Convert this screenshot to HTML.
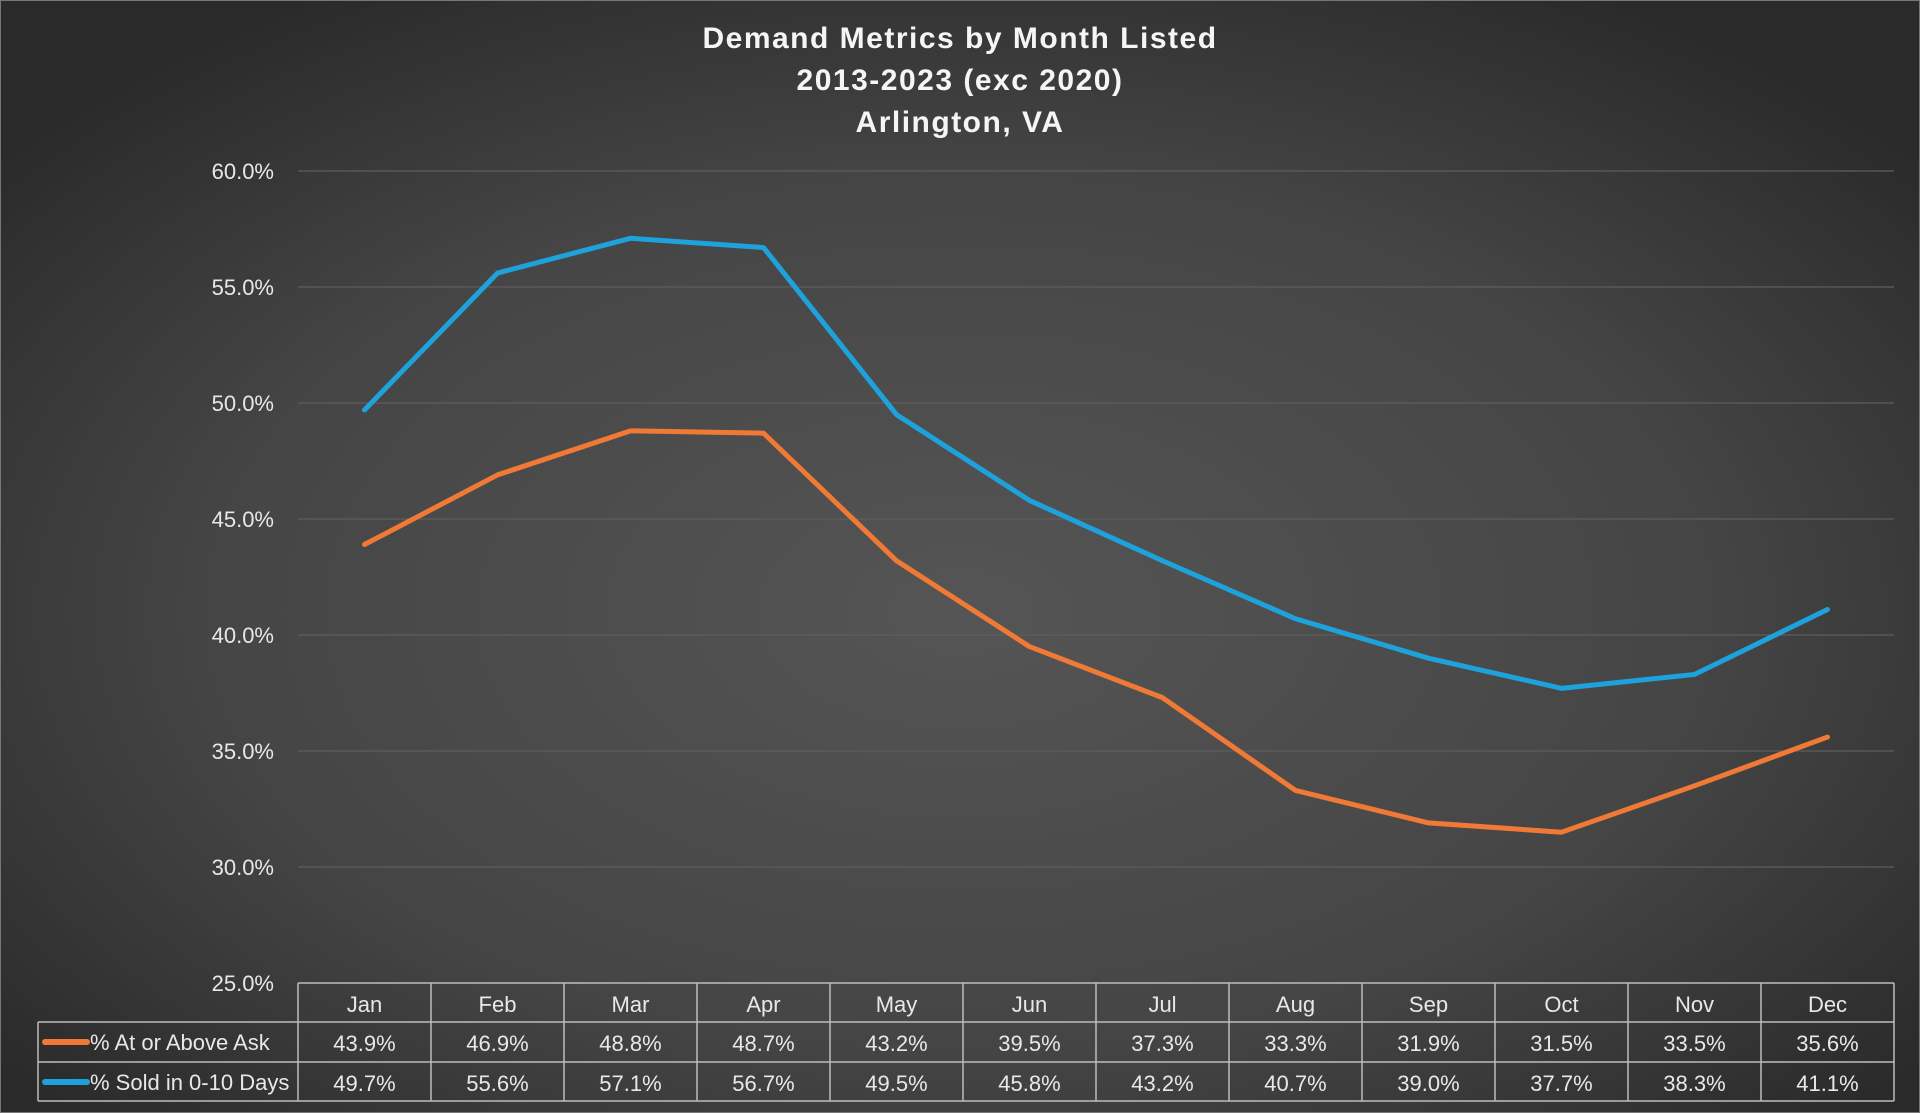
<!DOCTYPE html>
<html><head><meta charset="utf-8"><style>
html,body{margin:0;padding:0;}
body{width:1920px;height:1113px;overflow:hidden;background:#2e2e2e;}
svg{display:block;font-family:"Liberation Sans",sans-serif;}
</style></head><body>
<svg id="chart" width="1920" height="1113" viewBox="0 0 1920 1113">
<defs>
<radialGradient id="bg" cx="0.5" cy="0.55" r="0.65">
<stop offset="0" stop-color="#555555"/><stop offset="0.6" stop-color="#454545"/><stop offset="1" stop-color="#2a2a2a"/>
</radialGradient>
</defs>
<rect x="0" y="0" width="1920" height="1113" fill="url(#bg)" stroke="#777" stroke-width="2"/>
<g fill="#f5f5f5" font-weight="bold" font-size="30" text-anchor="middle" letter-spacing="1.5">
<text x="960" y="48">Demand Metrics by Month Listed</text>
<text x="960" y="90">2013-2023 (exc 2020)</text>
<text x="960" y="132">Arlington, VA</text>
</g>
<g id="grid"></g>
<g id="yticks"></g>
<g id="lines"></g>
<g id="table"></g>
</svg>
<script>
const months=["Jan","Feb","Mar","Apr","May","Jun","Jul","Aug","Sep","Oct","Nov","Dec"];
const askValues=[43.9,46.9,48.8,48.7,43.2,39.5,37.3,33.3,31.9,31.5,33.5,35.6];
const soldValues=[49.7,55.6,57.1,56.7,49.5,45.8,43.2,40.7,39.0,37.7,38.3,41.1];
const yTicks=[25,30,35,40,45,50,55,60];
const seriesNames=["% At or Above Ask","% Sold in 0-10 Days"];
const NS="http://www.w3.org/2000/svg";
const X0=298,X1=1894,Y0=983,Y1=171;
const colW=(X1-X0)/months.length;
function xs(i){return X0+colW*(i+0.5);}
function ys(v){return Y0-(v-25)/(60-25)*(Y0-Y1);}
function mk(tag,attrs,parent){const e=document.createElementNS(NS,tag);for(const k in attrs)e.setAttribute(k,attrs[k]);parent.appendChild(e);return e;}
const grid=document.getElementById('grid'),yt=document.getElementById('yticks');
yTicks.forEach(t=>{
 if(t>25){const l=mk('line',{x1:X0,x2:X1,y1:ys(t),y2:ys(t),stroke:'#5e5e5e','stroke-width':1.2},grid);
 
 }
 const tx=mk('text',{x:274,y:ys(t)+8,'text-anchor':'end',fill:'#e8e8e8','font-size':22},yt);
 tx.textContent=t.toFixed(1)+'%';
 
 
});
const lines=document.getElementById('lines');
[[askValues,'#f07a35','ask'],[soldValues,'#1ea2dc','sold']].forEach(([vals,col,n])=>{
 const p=mk('polyline',{points:vals.map((v,i)=>xs(i)+','+ys(v)).join(' '),fill:'none',stroke:col,'stroke-width':5,'stroke-linejoin':'round','stroke-linecap':'round'},lines);
 
 
});
const tb=document.getElementById('table');
const R0=983,R1=1022,R2=1062,R3=1101,LX=38;
const sc='#bdbdbd';
mk('line',{x1:X0,x2:X1,y1:R0,y2:R0,stroke:sc,'stroke-width':1.5},tb);
[R1,R2,R3].forEach(y=>mk('line',{x1:LX,x2:X1,y1:y,y2:y,stroke:sc,'stroke-width':1.5},tb));
mk('line',{x1:LX,x2:LX,y1:R1,y2:R3,stroke:sc,'stroke-width':1.5},tb);
for(let i=0;i<=months.length;i++){const x=X0+colW*i;mk('line',{x1:x,x2:x,y1:R0,y2:R3,stroke:sc,'stroke-width':1.5},tb);}
months.forEach((m,i)=>{
 const t=mk('text',{x:xs(i),y:R0+29,'text-anchor':'middle',fill:'#e8e8e8','font-size':22},tb);t.textContent=m;
 
 
 const a=mk('text',{x:xs(i),y:R1+29,'text-anchor':'middle',fill:'#e8e8e8','font-size':22},tb);a.textContent=askValues[i].toFixed(1)+'%';
 
 
 const s=mk('text',{x:xs(i),y:R2+29,'text-anchor':'middle',fill:'#e8e8e8','font-size':22},tb);s.textContent=soldValues[i].toFixed(1)+'%';
 
 
});
[['#f07a35',R1],['#1ea2dc',R2]].forEach(([c,y],k)=>{
 const l=mk('line',{x1:45,x2:87,y1:y+20,y2:y+20,stroke:c,'stroke-width':6,'stroke-linecap':'round'},tb);
 
 
 const t=mk('text',{x:90,y:y+28,fill:'#e8e8e8','font-size':22},tb);t.textContent=seriesNames[k];
 
 
});
</script>
</body></html>
